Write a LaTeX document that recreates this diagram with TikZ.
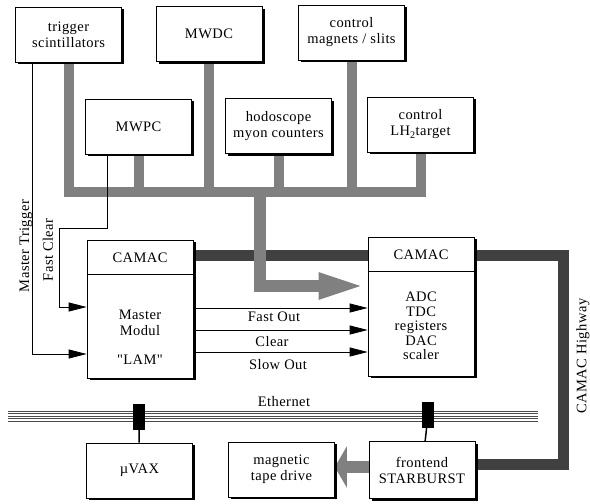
\documentclass[tikz,border=0pt]{standalone}
\usepackage{fontspec}
\setmainfont{Liberation Serif}[LetterSpace=3]
\newfontfamily\straightquotes{Liberation Serif}[LetterSpace=3,Ligatures=TeXOff]
\usepackage{tikz}
\usetikzlibrary{arrows.meta,shadows}
\pgfdeclarelayer{bg}
\pgfsetlayers{bg,main}

\begin{document}
\begin{tikzpicture}[x=1pt,y=-1pt,
  every node/.style={font=\fontsize{14.5}{16}\selectfont},
  box/.style={draw, line width=0.7pt, fill=white, align=center, inner sep=0pt,
    minimum width=106pt, minimum height=55pt,
    drop shadow={shadow xshift=2.5pt,shadow yshift=-2pt,fill=black,opacity=1}},
  bus/.style={line width=10pt, draw=black!50},
  highway/.style={line width=11pt, draw=black!75},
  signal/.style={line width=0.8pt, -{Triangle[length=18pt,width=9pt]}},
  tap/.style={fill=black, minimum width=12pt, minimum height=26pt, inner sep=0pt}]
\useasboundingbox (0,0) rectangle (590,504);

% detectors and controls
\node[box] (trig) at (68.5,34.5) {trigger\\scintillators};
\node[box] (mwdc) at (209,34) {MWDC};
\node[box] (magn) at (351.5,32.5) {control\\magnets / slits};
\node[box] (mwpc) at (138.5,126.5) {MWPC};
\node[box] (hodo) at (278.5,126) {hodoscope\\myon counters};
\node[box] (lh2) at (420.5,124.5) {control\\LH\textsubscript{2}target};

% CAMAC crates
\node[box, minimum height=138pt] (camL) at (140,309) {};
\node[box, minimum height=139pt] (camR) at (421,306.5) {};
\draw[line width=0.7pt] ([yshift=-35pt]camL.north west) -- ([yshift=-35pt]camL.north east);
\draw[line width=0.7pt] ([yshift=-35pt]camR.north west) -- ([yshift=-35pt]camR.north east);
\node (hdL) at (140,258) {CAMAC};
\node (hdR) at (421,255) {CAMAC};
\node[align=center] (master) at (140,323) {Master\\Modul};
\node (lam) at (140,360) {\straightquotes "LAM"};
\node[align=center, font=\fontsize{14.5}{14.5}\selectfont] (mods) at (421,326) {ADC\\TDC\\registers\\DAC\\scaler};

% computers
\node[box] (uvax) at (139.5,470.5) {µVAX};
\node[box] (tape) at (281.5,469.5) {magnetic\\tape drive};
\node[box, minimum height=57pt] (star) at (422,470) {frontend\\STARBURST};

% ethernet
\coordinate (ethL) at (8,416);
\coordinate (ethR) at (538,416);
\foreach \dy in {-5,-2.5,0,2.5,5}
  \draw[line width=1pt, black!70] ([yshift=\dy pt]ethL) -- ([yshift=\dy pt]ethR);
\node (eth) at (284,402) {Ethernet};
\node[tap] (tapL) at (139,417) {};
\node[tap] (tapR) at (428,415) {};
\draw[line width=1.5pt] (tapL) -- (uvax);
\draw[line width=1.5pt] (tapR) -- (star);

% busses
\coordinate (busL) at (68.5,192);
\coordinate (busR) at (420.5,192);
\coordinate (drop) at (259.5,192);
\coordinate (hwA) at (563,255);
\coordinate (hwB) at (563,464);
\begin{pgfonlayer}{bg}
\draw[highway] (camL.east |- 0,255) -- (camR.west |- 0,255);
\draw[highway] (camR.east |- hwA) -- (hwA) -- (hwB) -- (star.east |- hwB);
\draw[bus] (trig.south) |- (busR) -- (lh2.south);
\foreach \n in {mwdc,magn,mwpc,hodo}
  \draw[bus] (\n.south) -- (\n.south |- busL);
\draw[bus, line width=12pt, -{Triangle[length=49pt,width=23pt]}] (drop) |- (camR.west |- 0,286);
\draw[bus, line width=12pt, -{Triangle[length=12pt,width=41pt]}] (star.west |- 0,467) -- (tape.east |- 0,467);
\end{pgfonlayer}
\node[rotate=90] (hwlbl) at (583,356) {CAMAC Highway};

% trigger signals
\draw[signal] (trig.south -| 32,0) |- (camL.west |- 0,354);
\node[rotate=90] (mtlbl) at (26,246) {Master Trigger};
\draw[signal] (mwpc.south -| 107,0) |- (59,228) |- (camL.west |- 0,307);
\node[rotate=90] (fclbl) at (48,250) {Fast Clear};

% crate to crate
\draw[signal] (camL.east |- 0,308) -- (camR.west |- 0,308);
\draw[signal] (camL.east |- 0,330) -- (camR.west |- 0,330);
\draw[signal] (camL.east |- 0,352) -- (camR.west |- 0,352);
\node (fo) at (274,317) {Fast Out};
\node (cl) at (272,342) {Clear};
\node (so) at (278,365) {Slow Out};
\end{tikzpicture}
\end{document}
